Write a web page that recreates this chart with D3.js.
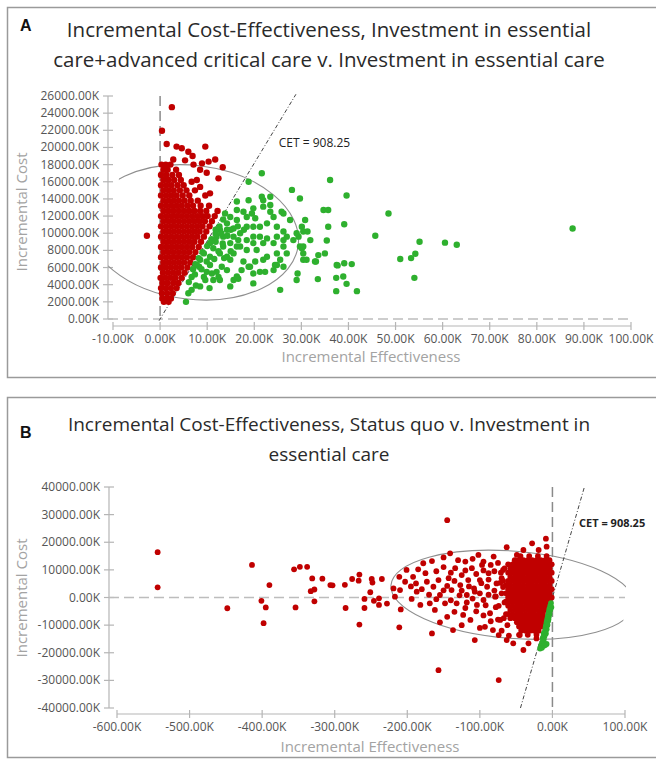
<!DOCTYPE html>
<html>
<head>
<meta charset="utf-8">
<script src="https://cdn.jsdelivr.net/npm/d3@7"></script>
<style>
  body { margin: 0; background: #fff; }
  svg { display: block; }
</style>
</head>
<body>
<svg id="chart" width="656" height="761"></svg>
<script>
// willingness-to-pay threshold shown as the dashed line
const cet = 908.25;

// ---- panel A ----
const titleA = [
  "Incremental Cost-Effectiveness, Investment in essential",
  "care+advanced critical care v. Investment in essential care"
];
const xTicksA = [-10, 0, 10, 20, 30, 40, 50, 60, 70, 80, 90, 100];
const yTicksA = [0, 2000, 4000, 6000, 8000, 10000, 12000, 14000, 16000, 18000, 20000, 22000, 24000, 26000];

// dense red wedge, one row per cost level: [cost, [effectiveness...]]
const redRowsA = [
  [2000, [0.8, 1.8]],
  [2400, [0.5, 1.5, 2.3]],
  [3000, [0.4, 1.5, 2.7]],
  [3600, [0.2, 1.2, 2.3, 3.5]],
  [4200, [0.5, 1.6, 2.8, 3.9]],
  [4800, [0.1, 1.1, 2.2, 3.3, 4.6]],
  [5400, [0.6, 1.7, 2.8, 3.9, 5.2]],
  [6000, [0.2, 1.2, 2.3, 3.4, 4.5, 5.8]],
  [6600, [0.7, 1.8, 2.9, 4.0, 5.1, 6.4]],
  [7200, [0.2, 1.3, 2.4, 3.5, 4.6, 5.7, 7.0]],
  [7800, [0.7, 1.8, 2.9, 4.0, 5.1, 6.2, 7.5]],
  [8400, [0.2, 1.3, 2.4, 3.5, 4.6, 5.7, 6.8, 8.2]],
  [9000, [0.7, 1.8, 2.9, 4.0, 5.1, 6.2, 7.3, 8.7]],
  [9600, [0.2, 1.3, 2.4, 3.5, 4.6, 5.7, 6.8, 7.9, 9.3]],
  [10200, [0.7, 1.8, 2.9, 4.0, 5.1, 6.2, 7.3, 8.4, 9.8]],
  [10800, [0.2, 1.3, 2.4, 3.5, 4.6, 5.7, 6.8, 7.9, 9.0, 10.5]],
  [11400, [0.7, 1.8, 2.9, 4.0, 5.1, 6.2, 7.3, 8.4, 9.5, 11.0]],
  [12000, [0.2, 1.3, 2.4, 3.5, 4.6, 5.7, 6.8, 7.9, 9.0, 10.1, 11.6]],
  [12600, [0.7, 1.8, 2.9, 4.0, 5.1, 6.2, 7.3, 8.5, 9.8, 12.2]],
  [13200, [0.2, 1.3, 2.4, 3.5, 4.6, 5.8, 7.0, 8.6, 10.4]],
  [13800, [0.7, 1.8, 2.9, 4.0, 5.2, 6.5, 8.0]],
  [14400, [0.2, 1.3, 2.4, 3.5, 4.8, 6.2, 9.6]],
  [15000, [0.7, 1.8, 2.9, 4.2, 5.6, 7.4]],
  [15600, [0.2, 1.3, 2.4, 3.7, 5.0]],
  [16200, [0.7, 1.8, 3.0, 4.4, 7.8]],
  [16800, [0.2, 1.3, 2.6, 4.0]],
  [17400, [0.7, 1.6, 3.4]],
  [18000, [0.3, 1.2, 2.2]]
];
const redScatterA = [
  [2.5, 24700], [0.4, 21950], [-2.8, 9700], [1.4, 20400], [3.5, 20100], [4.6, 19900],
  [6.0, 19500], [9.6, 20100], [6.9, 19000], [2.8, 18600], [5.3, 18500], [7.1, 18000],
  [8.9, 18150], [10.3, 18350], [11.7, 18600], [13.3, 17700], [8.5, 17400], [9.9, 17050],
  [12.4, 16400], [6.7, 16000], [8.5, 15400], [10.6, 14650]
];
const greenA = [
  [5.5, 2000], [6.7, 3400], [8.5, 3800], [10.5, 3600], [14.9, 3800], [16.6, 4700], [19.8, 5300],
  [22.3, 5500], [25.5, 3400], [29.0, 4550], [29.2, 5300], [33.5, 4650], [6.7, 4900], [8.3, 6100],
  [9.9, 6700], [9.3, 7650], [12.0, 5500], [13.1, 6100], [12.4, 4900], [14.9, 6900], [15.6, 7650],
  [17.7, 6700], [18.8, 6100], [20.2, 6700], [21.2, 5500], [21.9, 6900], [24.4, 6300], [24.8, 7650],
  [26.2, 8450], [26.9, 9600], [28.3, 9200], [29.4, 9600], [30.1, 10750], [30.4, 7650], [31.9, 9200],
  [32.9, 6700], [33.6, 7450], [35.0, 7650], [35.7, 10750], [34.7, 12700], [35.7, 12700], [36.1, 16200],
  [21.6, 17000], [18.8, 16000], [23.4, 14250], [23.4, 13300], [21.9, 13850], [28.0, 15050], [29.7, 14050],
  [16.3, 12700], [17.7, 12500], [19.5, 12300], [18.4, 11900], [20.2, 11750], [21.2, 10750], [22.7, 11150],
  [24.1, 11900], [24.8, 10750], [26.2, 10200], [14.9, 11900], [14.2, 11150], [15.6, 10550], [17.0, 10000],
  [12.7, 10400], [12.0, 9600], [18.4, 9200], [19.8, 9600], [21.9, 8850], [22.7, 9400], [24.1, 8850],
  [20.5, 8050], [18.4, 8050], [17.0, 8450], [14.9, 8850], [13.4, 8450], [11.3, 8250], [10.6, 8850],
  [12.7, 7650], [14.2, 7250], [10.6, 7250], [8.5, 6900], [7.8, 6300], [11.3, 4550], [12.7, 4550],
  [17.3, 5700], [19.8, 4150], [16.3, 11550], [14.2, 10400], [19.8, 10750], [18.4, 10750], [18.8, 13850],
  [19.8, 12900], [23.4, 12500], [26.2, 12300], [27.6, 11550], [29.0, 10000], [29.7, 8450], [26.9, 7650],
  [25.5, 6900], [22.7, 7250], [24.1, 5700], [15.6, 4550], [14.2, 5700], [9.9, 5500], [9.6, 4550],
  [15.6, 9600], [13.4, 9600], [11.8, 10400], [16.3, 8450], [19.8, 8850], [21.2, 9600], [26.2, 9200],
  [24.8, 9600], [39.6, 14400], [48.5, 12300], [30.8, 11550], [39.1, 11050], [30.4, 10200], [31.3, 10200],
  [87.6, 10550], [45.7, 9700], [35.4, 9150], [55.1, 9000], [60.5, 8900], [63.0, 8650], [30.1, 8250],
  [30.4, 6900], [33.1, 6700], [54.2, 7600], [51.0, 7000], [53.3, 7100], [37.7, 6250], [39.1, 6500],
  [40.7, 6400], [37.4, 4800], [38.9, 4950], [39.6, 4100], [54.0, 4800], [37.4, 3250], [41.8, 3250],
  [21.6, 14250], [21.9, 13100], [16.3, 13700], [25.8, 12500], [37.5, 6300], [31.1, 6900], [30.4, 8450],
  [16.3, 4950], [19.1, 6100], [24.8, 6300], [26.2, 6100], [7.5, 6400], [8.2, 7100], [9.0, 7800],
  [10.0, 8500], [10.9, 9300], [11.8, 9900], [12.6, 10800], [13.4, 11600], [13.8, 12300], [8.8, 5800],
  [10.6, 6300], [11.5, 7000], [12.4, 7900], [13.3, 8800], [14.3, 9700], [15.0, 10400], [16.5, 10800],
  [7.4, 5200], [6.1, 4300], [6.0, 3000], [7.6, 3900], [9.3, 4900], [11.0, 5300], [13.6, 7100],
  [15.0, 7900], [16.6, 9200], [17.8, 10400], [11.8, 9000], [13.0, 10000], [7.0, 5800]
];
const ellipseA = { cx: 7, cy: 10100, rx: 22.5, ry: 7800, angle: 7 };

// ---- panel B ----
const titleB = [
  "Incremental Cost-Effectiveness, Status quo v. Investment in",
  "essential care"
];
const xTicksB = [-600, -500, -400, -300, -200, -100, 0, 100];
const yTicksB = [-40000, -30000, -20000, -10000, 0, 10000, 20000, 30000, 40000];

const redRowsB = [
  [15000, [-8, -20, -32, -44]],
  [13500, [-4, -10, -16, -22, -28, -34, -40, -46, -52]],
  [12000, [-1, -7, -13, -19, -25, -31, -37, -43, -49, -55, -61]],
  [10500, [-4, -10, -16, -22, -28, -34, -40, -46, -52, -58, -66]],
  [9000, [-1, -7, -13, -19, -25, -31, -37, -43, -49, -55, -61, -71]],
  [7500, [-4, -10, -16, -22, -28, -34, -40, -46, -52, -58]],
  [6000, [-1, -7, -13, -19, -25, -31, -37, -43, -49, -55, -61, -68]],
  [4500, [-4, -10, -16, -22, -28, -34, -40, -46, -52, -58, -64]],
  [3000, [-1, -7, -13, -19, -25, -31, -37, -43, -49, -55, -61]],
  [1500, [-4, -10, -16, -22, -28, -34, -40, -46, -52, -58, -64, -70]],
  [0, [-1, -7, -13, -19, -25, -31, -37, -43, -49, -55, -61]],
  [-1500, [-4, -10, -16, -22, -28, -34, -40, -46, -52, -58, -64]],
  [-3000, [-7, -13, -19, -25, -31, -37, -43, -49, -55, -61, -74]],
  [-4500, [-10, -16, -22, -28, -34, -40, -46, -52, -58]],
  [-6000, [-13, -19, -25, -31, -37, -43, -49, -55, -61]],
  [-7500, [-10, -16, -22, -28, -34, -40, -46, -52, -58, -67]],
  [-9000, [-13, -19, -25, -31, -37, -43, -49]],
  [-10500, [-16, -22, -28, -34, -40, -46]],
  [-12000, [-19, -25, -31, -37, -43]],
  [-13500, [-22, -34, -46]]
];
const redScatterB = [
  [-544, 16400], [-544, 3700], [-414, 11800], [-448, -3900], [-401, -1200], [-390, 4500], [-395, -3600],
  [-398, -9300], [-356, 10200], [-348, 11100], [-338, 11100], [-354, -3600], [-331, 6900], [-317, 6800],
  [-333, 2300], [-328, 2900], [-328, -1400], [-306, 4500], [-303, 4400], [-286, 4600], [-276, 6700],
  [-266, 8300], [-267, 6100], [-249, 6700], [-248, 5400], [-235, 6700], [-251, 1900], [-259, -500],
  [-246, -1200], [-239, -300], [-239, -2700], [-228, -2200], [-285, -3800], [-259, -3800], [-266, -9800],
  [-219, 3300], [-211, 7500], [-211, -10800], [-217, 300], [-210, 2700], [-209, -4300], [-203, 5700],
  [-201, 10000], [-194, -500], [-192, 7500], [-188, 5100], [-187, 2100], [-182, -2700], [-178, 12400],
  [-173, 5700], [-169, -2100], [-166, 13200], [-166, -13000], [-164, 3900], [-162, -4500], [-157, -26300],
  [-157, 6300], [-155, 900], [-150, 14500], [-148, -2100], [-145, 28000], [-143, 7000], [-141, 16000],
  [-139, 2700], [-137, -11800], [-134, 10600], [-132, -2100], [-127, 4500], [-125, 8100], [-123, -6300],
  [-120, 13000], [-118, 900], [-116, 6300], [-113, -8100], [-111, 10600], [-107, 2100], [-107, -15400],
  [-104, -2700], [-102, 15400], [-100, 6300], [-97, 11800], [-95, -900], [-93, -10600], [-90, 3900],
  [-88, 8800], [-86, -5700], [-81, 14800], [-79, 300], [-77, 5100], [-74, -29900], [-74, -13600],
  [-72, -8100], [-63, 18200], [-49, 15400], [-40, 17200], [-28, 19600], [-19, 17200], [-9, 21300],
  [-8, 18400], [-54, -16600], [-40, -19000], [-33, -16600], [-22, -14800], [-63, -15400], [-45, -13600],
  [-130, 13500], [-110, 14000], [-95, 13000], [-85, 11800], [-75, 12500], [-68, 10000], [-80, 9500],
  [-95, 9800], [-105, 8500], [-120, 9800], [-140, 9000], [-150, 11000], [-160, 9500], [-175, 8800],
  [-185, 10200], [-195, 4000], [-180, 3000], [-170, 1000], [-160, -600], [-145, 4200], [-135, 6000],
  [-125, 2500], [-115, 4000], [-110, -400], [-100, 1500], [-92, -2800], [-88, 6500], [-80, 2500],
  [-78, -3500], [-70, 7000], [-68, 3800], [-66, -1800], [-64, -6000], [-75, -8000], [-85, -8600],
  [-95, -6500], [-105, -5000], [-120, -3800], [-135, -5200], [-145, -7000], [-155, -9000], [-125, -10000],
  [-100, -11000], [-82, -11800], [-70, -12000], [-62, -10000], [-60, -13800], [-150, 2600], [-140, -1000],
  [-128, 800], [-118, -1800], [-108, 3300], [-98, 5200], [-88, 1000], [-78, 400], [-72, 5300]
];
const greenB = [
  [-2, -2000], [-3, -3000], [-1.5, -3500], [-4, -4000], [-3, -4500], [-4.5, -4800], [-5, -5500],
  [-4, -6000], [-6, -6500], [-5, -7000], [-6.5, -7200], [-7, -7800], [-5.5, -8000], [-7.5, -8500],
  [-6, -8500], [-8, -9000], [-7, -9800], [-8.5, -9800], [-9, -10500], [-7, -10000], [-9.5, -11000],
  [-8, -11500], [-10, -12000], [-11, -12800], [-9, -13000], [-12, -13000], [-11, -14000], [-13, -14500],
  [-12, -15200], [-13, -15500], [-14, -16500], [-8, -16800], [-10, -17200], [-15, -17000], [-12, -17500],
  [-16, -17800], [-14.5, -18200], [-17, -18500]
];
const ellipseB = { cx: -55, cy: 1000, rx: 168, ry: 15800, angle: 4.5 };

const RED = "#c00000";
const GREEN = "#2eb02e";
const svg = d3.select("#chart");
// plain hyphen for negatives, as in the original software
const fmtK = (v) => v.toFixed(2) + "K";

function drawPanel(p) {
  const x = d3.scaleLinear().domain(p.xDomain).range(p.xRange);
  const y = d3.scaleLinear().domain(p.yDomain).range(p.yRange);
  const g = svg.append("g");

  // frame
  g.append("rect")
    .attr("x", 7.5).attr("y", p.boxTop)
    .attr("width", 670).attr("height", p.boxHeight)
    .attr("fill", "none").attr("stroke", "#9a9a9a").attr("stroke-width", 1.5);

  g.append("text")
    .attr("x", 20).attr("y", p.letterY)
    .style("font", "bold 16px 'Liberation Sans', Arial, sans-serif")
    .attr("fill", "#111").text(p.letter);

  g.selectAll(".title").data(p.title).join("text")
    .attr("class", "title")
    .attr("x", 329).attr("y", (d, i) => p.titleY + i * 30)
    .attr("text-anchor", "middle")
    .style("font", `${p.titleSize}px 'Open Sans', sans-serif`)
    .attr("fill", "#2a2a2a").text((d) => d);

  // y axis with crossing ticks
  g.append("line")
    .attr("x1", p.yAxisX).attr("x2", p.yAxisX)
    .attr("y1", y(p.yDomain[1])).attr("y2", y(p.yDomain[0]))
    .attr("stroke", "#b5b5b5").attr("stroke-width", 1.2);
  g.selectAll(".ytick").data(p.yTicks).join("line")
    .attr("class", "ytick")
    .attr("x1", p.yAxisX - 5).attr("x2", p.yAxisX + 5)
    .attr("y1", (d) => y(d)).attr("y2", (d) => y(d))
    .attr("stroke", "#b5b5b5").attr("stroke-width", 1.2);
  g.selectAll(".ylab").data(p.yTicks).join("text")
    .attr("class", "ylab")
    .attr("x", p.yAxisX - 9).attr("y", (d) => y(d) + 4)
    .attr("text-anchor", "end")
    .style("font", "12px 'Open Sans', sans-serif")
    .attr("fill", "#555").text(fmtK);

  // x axis with crossing ticks
  g.append("line")
    .attr("x1", x(p.xDomain[0])).attr("x2", x(p.xDomain[1]))
    .attr("y1", p.xAxisY).attr("y2", p.xAxisY)
    .attr("stroke", "#b5b5b5").attr("stroke-width", 1.2);
  g.selectAll(".xtick").data(p.xTicks).join("line")
    .attr("class", "xtick")
    .attr("x1", (d) => x(d)).attr("x2", (d) => x(d))
    .attr("y1", p.xAxisY - 4).attr("y2", p.xAxisY + 4)
    .attr("stroke", "#b5b5b5").attr("stroke-width", 1.2);
  g.selectAll(".xlab").data(p.xTicks).join("text")
    .attr("class", "xlab")
    .attr("x", (d) => x(d)).attr("y", p.xAxisY + 17)
    .attr("text-anchor", "middle")
    .style("font", "12px 'Open Sans', sans-serif")
    .attr("fill", "#555").text(fmtK);

  // axis titles
  g.append("text")
    .attr("transform", `translate(${p.yTitle[0]},${p.yTitle[1]}) rotate(-90)`)
    .attr("text-anchor", "middle")
    .style("font", "15px 'Open Sans', sans-serif")
    .attr("fill", "#a3a3a3").text("Incremental Cost");
  g.append("text")
    .attr("x", p.xTitle[0]).attr("y", p.xTitle[1])
    .attr("text-anchor", "middle")
    .style("font", "15px 'Open Sans', sans-serif")
    .attr("fill", "#a3a3a3").text("Incremental Effectiveness");

  // zero reference lines
  g.append("line")
    .attr("x1", p.yAxisX).attr("x2", x(p.xDomain[1]))
    .attr("y1", y(0)).attr("y2", y(0))
    .attr("stroke", "#bdbdbd").attr("stroke-width", 1.5).attr("stroke-dasharray", "10,5");
  g.append("line")
    .attr("x1", x(0)).attr("x2", x(0))
    .attr("y1", y(p.yDomain[1])).attr("y2", y(p.vLineBottom))
    .attr("stroke", "#8a8a8a").attr("stroke-width", 1.5).attr("stroke-dasharray", "10,5");

  // confidence ellipse, clipped to the plot area
  const clipId = "clip" + p.letter;
  g.append("clipPath").attr("id", clipId)
    .append("rect")
    .attr("x", x(p.xDomain[0])).attr("y", y(p.yDomain[1]))
    .attr("width", x(p.xDomain[1]) - x(p.xDomain[0]))
    .attr("height", y(p.yDomain[0]) - y(p.yDomain[1]));
  const e = p.ellipse;
  g.append("ellipse")
    .attr("clip-path", `url(#${clipId})`)
    .attr("cx", x(e.cx)).attr("cy", y(e.cy))
    .attr("rx", x(e.cx + e.rx) - x(e.cx))
    .attr("ry", y(e.cy - e.ry) - y(e.cy))
    .attr("transform", `rotate(${e.angle},${x(e.cx)},${y(e.cy)})`)
    .attr("fill", "none").attr("stroke", "#8f8f8f").attr("stroke-width", 1.1);

  // CET line through origin
  g.append("line")
    .attr("x1", x(p.cetRange[0] / cet)).attr("y1", y(p.cetRange[0]))
    .attr("x2", x(p.cetRange[1] / cet)).attr("y2", y(p.cetRange[1]))
    .attr("stroke", "#444").attr("stroke-width", 1).attr("stroke-dasharray", "4,2,1,2");

  const red = p.redRows.flatMap(([cost, effs]) => effs.map((eff) => [eff, cost])).concat(p.redScatter);
  g.append("g").selectAll("circle").data(red).join("circle")
    .attr("cx", (d) => x(d[0])).attr("cy", (d) => y(d[1]))
    .attr("r", p.r).attr("fill", RED);
  g.append("g").selectAll("circle").data(p.green).join("circle")
    .attr("cx", (d) => x(d[0])).attr("cy", (d) => y(d[1]))
    .attr("r", p.r).attr("fill", GREEN);

  g.append("text")
    .attr("x", x(p.cetLabel[0])).attr("y", y(p.cetLabel[1]))
    .style("font", p.cetFont)
    .attr("fill", "#222").text("CET = " + cet);
}

drawPanel({
  letter: "A", boxTop: 7.5, boxHeight: 370, letterY: 31, title: titleA, titleY: 37, titleSize: 20.5,
  xDomain: [-10, 100], xRange: [113, 631], yDomain: [0, 26000], yRange: [319, 96],
  xTicks: xTicksA, yTicks: yTicksA, xAxisY: 326, yAxisX: 108, vLineBottom: 0,
  yTitle: [27, 212], xTitle: [371, 362],
  ellipse: ellipseA, cetRange: [-200, 26200], cetLabel: [25.2, 20000],
  cetFont: "12px 'Open Sans', sans-serif",
  redRows: redRowsA, redScatter: redScatterA, green: greenA, r: 3.2
});

drawPanel({
  letter: "B", boxTop: 397.5, boxHeight: 360, letterY: 438, title: titleB, titleY: 431, titleSize: 19,
  xDomain: [-600, 100], xRange: [117, 625], yDomain: [-40000, 40000], yRange: [708, 487],
  xTicks: xTicksB, yTicks: yTicksB, xAxisY: 714, yAxisX: 109, vLineBottom: -40000,
  yTitle: [27, 598], xTitle: [370, 752],
  ellipse: ellipseB, cetRange: [-40000, 39800], cetLabel: [36.7, 25500],
  cetFont: "bold 11px 'Open Sans', sans-serif",
  redRows: redRowsB, redScatter: redScatterB, green: greenB, r: 2.9
});
</script>
</body>
</html>
